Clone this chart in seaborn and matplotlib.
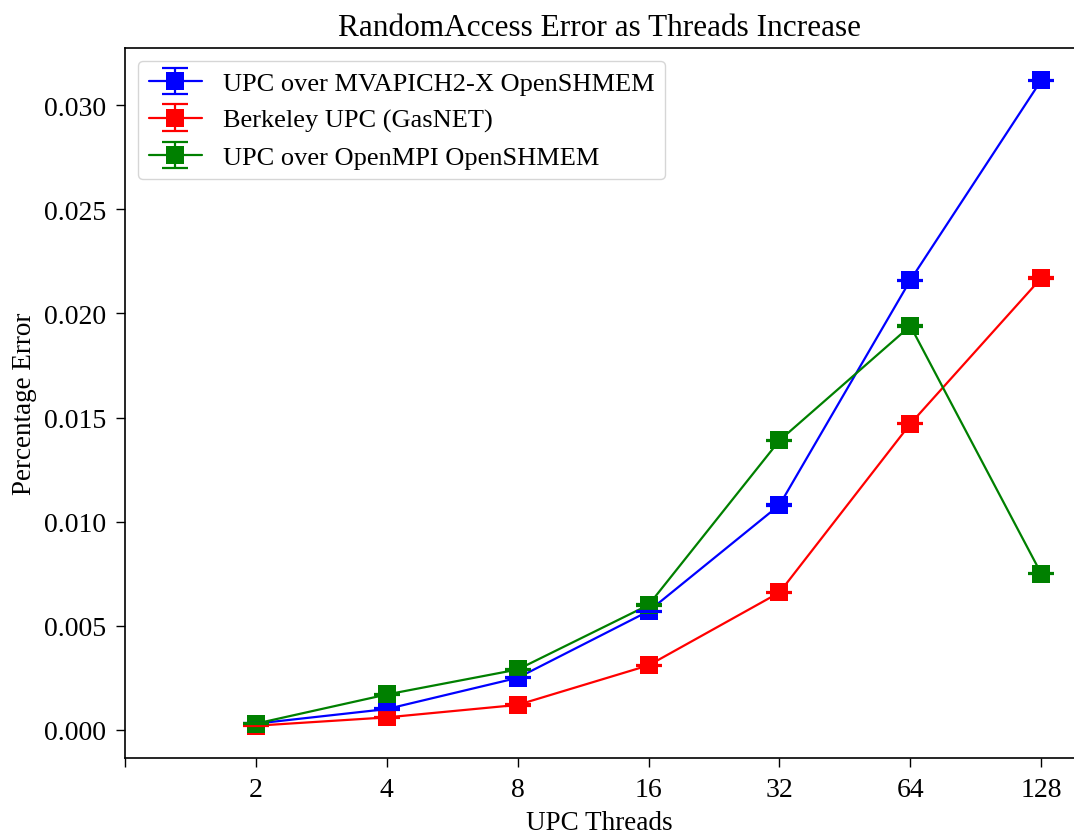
import matplotlib
matplotlib.use("Agg")
import matplotlib.pyplot as plt
import seaborn as sns
import pandas as pd
import numpy as np
from matplotlib.legend_handler import HandlerTuple

threads = ["2", "4", "8", "16", "32", "64", "128"]
series_names = ["UPC over MVAPICH2-X OpenSHMEM", "Berkeley UPC (GasNET)", "UPC over OpenMPI OpenSHMEM"]
mvapich = [0.0003, 0.0010, 0.0025, 0.0057, 0.0108, 0.0216, 0.0312]
berkeley = [0.0002, 0.0006, 0.0012, 0.0031, 0.0066, 0.0147, 0.0217]
openmpi = [0.0003, 0.0017, 0.0029, 0.0060, 0.0139, 0.0194, 0.0075]
errors = [0.00003, 0.00003, 0.00003]
colors = ["blue", "red", "green"]

sns.set_style("ticks")
plt.rcParams["font.family"] = ["Liberation Serif", "DejaVu Serif"]
plt.rcParams["mathtext.fontset"] = "stix"
plt.rcParams["text.color"] = "black"
plt.rcParams["axes.labelcolor"] = "black"
plt.rcParams["xtick.color"] = "black"
plt.rcParams["ytick.color"] = "black"

pos = list(range(1, len(threads) + 1))
rows = []
for name, vals in zip(series_names, [mvapich, berkeley, openmpi]):
    for p, v in zip(pos, vals):
        rows.append({"pos": p, "err": v, "impl": name})
df = pd.DataFrame(rows)

fig = plt.figure(figsize=(10.74, 8.37), dpi=100)
ax = fig.add_axes([0.1164, 0.0932, 0.8836, 0.8483])

sns.lineplot(data=df, x="pos", y="err", hue="impl", hue_order=series_names,
             palette=colors, marker="s", markersize=13, markeredgewidth=0,
             linewidth=1.6, legend=False, ax=ax)

handles = []
for i, (name, vals) in enumerate(zip(series_names, [mvapich, berkeley, openmpi])):
    ec = ax.errorbar(pos, vals, yerr=errors[i], fmt="none", ecolor=colors[i],
                     capsize=9.5, capthick=1.6, elinewidth=1.6, zorder=3)
    handles.append((ax.lines[i], ec))

ax.legend(handles, series_names, loc="upper left", fontsize=19,
          handler_map={tuple: HandlerTuple(ndivide=1)}, frameon=True,
          fancybox=True, framealpha=0.8, edgecolor="0.8", handlelength=2.0,
          borderaxespad=0.5)

ax.set_xlim(0, 7.25)
ax.set_ylim(-0.00135, 0.03275)
ax.set_xticks(range(0, len(threads) + 1))
ax.set_xticklabels([""] + threads)
ax.set_yticks(np.arange(0, 0.0301, 0.005))
ax.yaxis.set_major_formatter(matplotlib.ticker.FormatStrFormatter("%.3f"))
ax.tick_params(labelsize=20, length=6.5, width=1, pad=7, colors="black")
ax.set_xlabel("UPC Threads", fontsize=19.5, labelpad=6)
ax.set_ylabel("Percentage Error", fontsize=19.5, labelpad=5)
ax.set_title("RandomAccess Error as Threads Increase", fontsize=22.5, y=1.018, pad=0)
for s in ["left", "bottom", "top"]:
    ax.spines[s].set_visible(True)
    ax.spines[s].set_color("black")
    ax.spines[s].set_linewidth(1.2)
ax.spines["right"].set_visible(False)

fig.savefig("out.png", dpi=100)
